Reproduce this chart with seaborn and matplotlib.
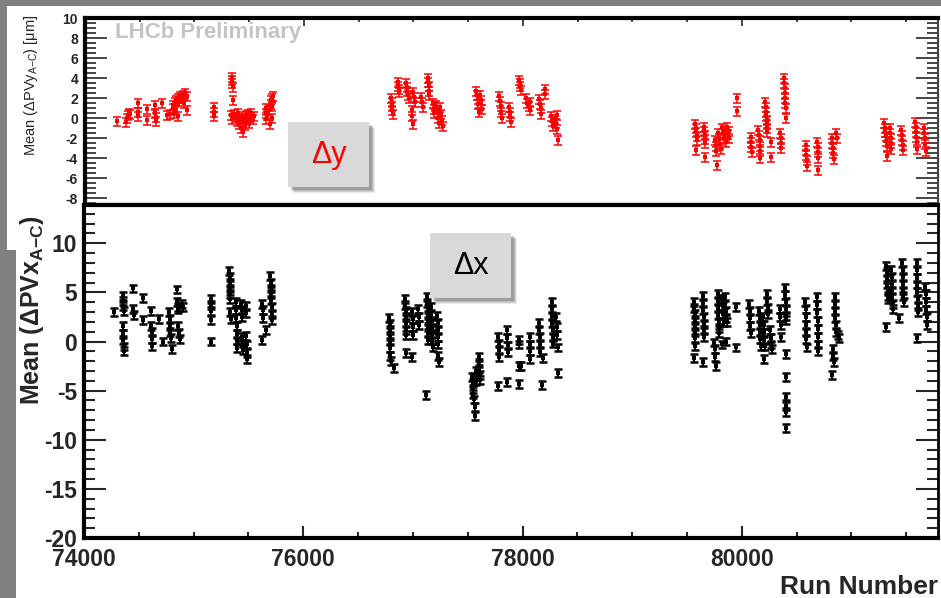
"""
Two stacked panels of per-run means: Delta y on top (red), Delta x below (black).
"""
import matplotlib
matplotlib.use("Agg")
import matplotlib.pyplot as plt
import seaborn as sns
import pandas as pd
from matplotlib.patches import Rectangle
from matplotlib.ticker import MultipleLocator

# ---- data: (run number, mean) ----
dy_points = [
    (74290, -0.3), (74370, -0.4), (74385, 0.0), (74395, 0.3), (74400, 0.5), (74410, 0.4),
    (74480, 1.5), (74480, 0.6), (74485, 0.2), (74565, 0.9), (74565, -0.2), (74640, 1.3),
    (74640, 0.5), (74650, -0.3), (74650, 0.1), (74705, 1.5), (74750, 0.3), (74780, 0.4),
    (74800, 1.0), (74805, 1.3), (74815, 0.5), (74820, 1.6), (74830, 1.8), (74835, 0.8),
    (74845, 2.0), (74850, 0.2), (74860, 1.7), (74870, 2.2), (74880, 2.0), (74895, 2.3),
    (74905, 1.5), (74915, 2.5), (74930, 2.2), (74935, 0.8),
    (75175, 1.1), (75180, 0.6), (75180, 0.2),
    (75340, 4.1), (75342, 3.8), (75345, 3.5), (75348, 3.1), (75350, 1.8),
    (75335, 0.3), (75345, -0.1), (75360, 0.4), (75380, 0.1), (75390, -0.3), (75400, 0.5),
    (75410, -0.6), (75420, -0.1), (75425, -1.0), (75430, 0.2), (75440, -0.4), (75445, -1.4),
    (75455, 0.0), (75460, -0.7), (75470, 0.3), (75480, -0.2), (75490, 0.4), (75500, -0.5),
    (75510, 0.1), (75520, 0.5), (75530, -0.1), (75540, 0.2),
    (75650, 1.0), (75652, 0.5), (75655, -0.1), (75665, 0.3), (75680, 0.8), (75690, -0.6),
    (75695, 1.4), (75700, 1.8), (75705, 2.0), (75710, 1.2), (75712, 0.0), (75718, 2.2),
    (76795, 2.0), (76800, 1.6), (76805, 1.2), (76808, 0.8), (76810, 0.4),
    (76855, 3.6), (76860, 3.2), (76865, 2.9), (76868, 2.6),
    (76935, 3.5), (76940, 3.1), (76945, 2.7), (76950, 2.3), (76955, 2.0),
    (76985, 0.8), (76990, 0.2), (76995, -0.6), (77000, 2.6), (77005, 2.1), (77010, 1.6),
    (77070, 2.1), (77078, 1.6), (77085, 1.1),
    (77130, 4.0), (77135, 3.6), (77138, 3.2), (77140, 2.7), (77145, 2.3),
    (77180, 1.5), (77185, 0.9), (77190, 0.5), (77195, 1.2), (77210, 1.3), (77220, 0.6),
    (77225, 0.0), (77230, -0.5), (77240, 1.1), (77255, 0.4), (77260, -0.2), (77270, -0.8),
    (77575, 2.7), (77580, 2.3), (77585, 1.9), (77590, 1.4), (77595, 0.6),
    (77610, 2.3), (77615, 1.8), (77620, 1.4), (77625, 0.9),
    (77785, 2.2), (77790, 1.7), (77795, 1.2), (77800, 0.6), (77805, 0.0),
    (77875, 1.1), (77880, 0.6), (77885, 0.2), (77890, -0.4),
    (77965, 3.8), (77970, 3.5), (77975, 3.2), (77980, 2.8),
    (78030, 2.0), (78040, 1.5), (78055, 1.2), (78065, 0.8), (78065, 1.6),
    (78150, 1.9), (78155, 1.4), (78160, 1.0), (78165, 0.4), (78200, 2.9), (78205, 2.4),
    (78255, 0.2), (78265, -0.3), (78275, -0.8), (78290, -0.1), (78300, -0.5), (78310, -1.1),
    (78315, 0.3), (78320, -2.2),
    (79575, -0.6), (79580, -1.0), (79580, -1.4), (79585, -1.8), (79590, -2.2), (79580, -3.2),
    (79650, -0.9), (79655, -1.3), (79660, -1.7), (79665, -2.1), (79665, -2.5), (79660, -3.9),
    (79755, -2.2), (79760, -2.8), (79765, -3.3), (79768, -4.7),
    (79780, -1.5), (79790, -2.0), (79800, -2.6), (79805, -3.1),
    (79815, -1.0), (79825, -1.5), (79835, -2.0), (79840, -1.2), (79850, -2.4), (79860, -0.9),
    (79870, -1.6), (79880, -2.0), (79885, -1.3),
    (79950, 2.0), (79952, 0.7),
    (80080, -1.9), (80083, -2.4), (80086, -2.9), (80088, -3.4),
    (80150, -1.2), (80155, -1.7), (80160, -2.2), (80162, -2.8), (80165, -3.3), (80168, -4.0),
    (80210, 1.6), (80215, 1.1), (80220, 0.6), (80222, 0.2), (80225, -0.2), (80228, -0.6),
    (80230, -1.0), (80232, -1.4), (80265, -2.4), (80268, -3.9),
    (80350, -1.5), (80355, -2.0), (80358, -2.5), (80360, -3.0),
    (80385, 4.0), (80388, 3.5), (80390, 3.0), (80392, 2.5), (80394, 2.0), (80396, 1.5),
    (80398, 1.0), (80400, 0.0),
    (80580, -2.7), (80585, -3.2), (80588, -3.7), (80590, -4.2), (80592, -4.8),
    (80685, -2.4), (80690, -2.9), (80692, -3.4), (80695, -4.0), (80698, -5.2),
    (80820, -2.0), (80825, -2.5), (80830, -3.0), (80835, -3.5), (80838, -4.1),
    (80860, -1.5), (80868, -2.0),
    (81300, -0.5), (81305, -1.0), (81310, -1.4), (81315, -1.8), (81318, -2.3), (81320, -2.8),
    (81325, -3.8), (81350, -1.0), (81355, -1.5), (81360, -2.0), (81362, -2.5), (81365, -3.1),
    (81455, -1.2), (81460, -1.7), (81463, -2.2), (81466, -2.7), (81470, -3.2),
    (81580, -0.4), (81585, -0.9), (81590, -1.4), (81592, -1.9), (81595, -2.4), (81600, -3.1),
    (81660, -1.0), (81665, -1.5), (81670, -2.0), (81675, -2.6), (81680, -3.3),
]

dx_points = [
    (74275, 3.0),
    (74355, 4.6), (74358, 4.1), (74360, 3.6), (74362, 3.1), (74355, 1.6), (74358, 0.8),
    (74360, 0.2), (74362, -0.5), (74365, -1.0),
    (74450, 5.4), (74450, 3.3), (74455, 2.7), (74540, 4.4), (74540, 2.2),
    (74615, 3.1), (74615, 1.6), (74618, 1.0), (74620, 0.3), (74622, -0.5),
    (74685, 2.3), (74722, 0.0),
    (74775, 3.0), (74780, 2.3), (74785, 1.6), (74788, 1.0), (74790, 0.4), (74800, -0.8),
    (74850, 5.3), (74852, 4.0), (74855, 3.5), (74858, 3.3), (74862, 1.6), (74868, 0.9),
    (74880, 0.3), (74890, 3.8), (74900, 3.5),
    (75157, 4.3), (75158, 3.7), (75160, 3.1), (75160, 2.2), (75160, 0.0),
    (75325, 7.2), (75328, 6.6), (75330, 6.0), (75332, 5.4), (75334, 4.8), (75336, 4.3),
    (75336, 3.0), (75338, 2.3),
    (75385, 4.0), (75388, 3.2), (75390, 2.4), (75393, 1.6), (75395, 0.8), (75397, 0.1),
    (75400, -0.7),
    (75435, 3.8), (75440, 3.2), (75442, 2.5), (75445, 0.5), (75448, -0.2), (75450, -0.9),
    (75475, 3.6), (75480, 2.9), (75482, 0.6), (75485, -0.3), (75488, -1.2), (75490, -1.8),
    (75625, 3.8), (75630, 3.2), (75635, 2.4), (75620, 0.2), (75660, 1.2),
    (75700, 6.7), (75703, 6.0), (75706, 5.4), (75708, 4.8), (75710, 4.2), (75712, 3.5),
    (75715, 2.8), (75718, 2.2),
    (76785, 2.4), (76787, 1.8), (76789, 1.2), (76790, 0.6), (76791, 0.0), (76792, -0.7),
    (76795, -1.5), (76797, -2.0), (76830, -2.7),
    (76930, 4.3), (76932, 3.7), (76934, 3.1), (76936, 2.5), (76938, 1.9), (76935, 1.2),
    (76935, 0.7), (76935, -1.2), (76990, -1.6),
    (76995, 3.0), (76998, 2.3), (77000, 1.5), (77002, 0.7),
    (77050, 3.3), (77052, 2.5), (77055, 1.7),
    (77130, 4.5), (77132, 3.9), (77134, 3.3), (77136, 2.7), (77138, 2.1), (77140, 1.5),
    (77140, 0.9), (77142, 0.2),
    (77165, 3.5), (77168, 2.8), (77170, 2.1), (77172, 1.4), (77175, 0.8), (77178, 0.1),
    (77180, -0.6),
    (77220, 2.6), (77225, 1.9), (77228, 1.2), (77230, 0.5), (77232, -0.3), (77225, -1.5),
    (77235, -2.1), (77122, -5.4),
    (77540, -3.6), (77545, -4.2), (77548, -4.8), (77550, -5.3), (77555, -5.9),
    (77575, -3.0), (77580, -4.0), (77600, -1.6), (77603, -2.2), (77605, -2.8), (77608, -3.4),
    (77612, -3.9), (77570, -6.7), (77565, -7.6),
    (77780, 0.5), (77782, -0.2), (77784, -0.9), (77786, -1.6), (77780, -4.5),
    (77860, 1.2), (77862, 0.4), (77864, -0.4), (77866, -1.1), (77855, -4.1),
    (77970, 0.2), (77972, -0.3), (77965, -2.5), (77985, -2.5), (77965, -4.3),
    (78065, 0.5), (78067, -0.3), (78069, -1.0), (78071, -1.8),
    (78150, 1.9), (78152, 1.2), (78155, 0.5), (78157, -0.2), (78160, -1.1), (78185, -1.7),
    (78180, -4.4),
    (78265, 4.0), (78268, 3.3), (78270, 2.6), (78272, 1.9), (78274, 1.2), (78276, 0.5),
    (78280, -0.2), (78310, 2.5), (78315, 1.5), (78318, 0.7), (78320, -0.6), (78320, -3.2),
    (79565, 4.0), (79567, 3.4), (79569, 2.8), (79570, 2.2), (79572, 1.6), (79574, 1.0),
    (79575, 0.4), (79577, -0.5), (79565, -1.7),
    (79645, 4.6), (79648, 3.9), (79650, 3.2), (79652, 2.5), (79654, 1.8), (79656, 1.2),
    (79658, 0.5), (79650, -2.1),
    (79750, -0.1), (79755, -0.8), (79758, -1.6), (79762, -2.5),
    (79780, 4.8), (79783, 4.1), (79785, 3.4), (79787, 2.7), (79789, 2.0), (79791, 1.4),
    (79793, 0.9),
    (79820, 4.3), (79825, 3.6), (79830, 2.8), (79835, 2.0), (79845, 4.5), (79850, 3.8),
    (79855, 3.1), (79860, 2.4), (79865, 2.0), (79820, -0.3), (79860, 0.0),
    (79950, 3.5), (79950, -0.6),
    (80070, 3.8), (80073, 3.1), (80076, 2.4), (80078, 1.6), (80080, 0.9),
    (80160, 3.1), (80163, 2.4), (80166, 1.7), (80168, 1.0), (80170, 0.3), (80172, -0.5),
    (80195, 2.5), (80200, 1.7), (80203, 0.9), (80206, 0.2), (80208, -0.5), (80205, -1.8),
    (80228, 4.8), (80232, 4.1), (80236, 3.4), (80238, 2.8),
    (80262, 1.2), (80266, 0.4), (80270, -0.3), (80275, -0.8),
    (80350, 3.3), (80353, 2.5), (80356, 1.7), (80360, 0.5),
    (80395, 5.5), (80397, 4.7), (80399, 4.0), (80401, 3.3), (80403, 2.6), (80403, 2.2),
    (80400, -1.3), (80400, -3.6), (80400, -5.6), (80400, -6.6), (80402, -7.2), (80400, -8.8),
    (80580, 4.0), (80582, 3.3), (80584, 2.5), (80586, 1.7), (80588, 1.0), (80590, 0.3),
    (80592, -0.6),
    (80685, 4.5), (80687, 3.7), (80689, 2.9), (80691, 2.1), (80693, 1.3), (80695, 0.5),
    (80697, -0.3), (80699, -1.0),
    (80848, 4.5), (80850, 3.8), (80852, 3.1), (80854, 2.4), (80856, 1.7), (80860, 1.0),
    (80880, 0.7), (80885, 0.4), (80832, -0.8), (80836, -1.5), (80838, -2.1), (80825, -3.4),
    (81320, 7.7), (81323, 7.1), (81326, 6.4), (81328, 5.8), (81330, 5.2), (81332, 4.6),
    (81334, 4.3), (81315, 1.5),
    (81365, 7.3), (81368, 6.6), (81370, 5.9), (81372, 5.2), (81374, 4.5), (81376, 3.8),
    (81378, 3.3), (81435, 2.4),
    (81465, 8.0), (81467, 7.3), (81469, 6.6), (81471, 5.9), (81473, 5.2), (81475, 4.6),
    (81477, 4.0),
    (81595, 8.0), (81597, 7.3), (81599, 6.5), (81601, 5.8), (81603, 5.0), (81605, 4.3),
    (81607, 3.6), (81609, 3.0), (81598, 0.4),
    (81675, 5.6), (81678, 4.8), (81680, 4.0), (81683, 3.2), (81686, 2.5), (81688, 1.7),
]

dy_err = 0.45
dx_err = 0.4

x_ticks = [74000, 76000, 78000, 80000]
x_tick_labels = ["74000", "76000", "78000", "80000"]
top_y_ticks = [-8, -6, -4, -2, 0, 2, 4, 6, 8, 10]
bot_y_ticks = [-20, -15, -10, -5, 0, 5, 10]

df_y = pd.DataFrame(dy_points, columns=["run", "mean"])
df_x = pd.DataFrame(dx_points, columns=["run", "mean"])

# ---- style ----
sns.set_style("white")
plt.rcParams['font.family'] = ['Liberation Sans', 'DejaVu Sans']
plt.rcParams['mathtext.fontset'] = 'custom'
plt.rcParams['mathtext.rm'] = 'Liberation Sans'
plt.rcParams['mathtext.it'] = 'Liberation Sans:italic'
plt.rcParams['mathtext.bf'] = 'Liberation Sans:bold'

W, H = 941, 598


def frac(x0, y0, x1, y1):
    # pixel box measured from top-left -> figure fraction [l, b, w, h]
    return [x0 / W, 1 - y1 / H, (x1 - x0) / W, (y1 - y0) / H]


fig = plt.figure(figsize=(W / 100, H / 100), dpi=100)
fig.patch.set_facecolor('#808080')

# white "slides" behind the two panels
for (x0, y0, x1, y1) in [(7, 6, 941, 250), (16, 215, 941, 598)]:
    l, b, w, h = frac(x0, y0, x1, y1)
    fig.add_artist(Rectangle((l, b), w, h, transform=fig.transFigure,
                             facecolor='white', edgecolor='none', zorder=-5))

ax_top = fig.add_axes(frac(85, 18, 938, 203))
ax_bot = fig.add_axes(frac(84, 205, 938, 538))

# ---- top panel: delta y ----
sns.scatterplot(data=df_y, x="run", y="mean", ax=ax_top, color='red',
                marker='s', s=5, linewidth=0, legend=False)
ax_top.errorbar(df_y["run"], df_y["mean"], yerr=dy_err, fmt='none',
                ecolor='red', elinewidth=1.1, capsize=3, capthick=1.1)
ax_top.set_xlim(74000, 81790)
ax_top.set_ylim(-8.5, 10)
ax_top.set_xlabel("")
ax_top.set_ylabel("")
ax_top.set_xticks(x_ticks)
ax_top.xaxis.set_minor_locator(MultipleLocator(500))
ax_top.set_yticks(top_y_ticks)
ax_top.set_yticklabels([str(v) for v in top_y_ticks], fontsize=10, fontweight='bold')
ax_top.yaxis.set_minor_locator(MultipleLocator(0.5))
ax_top.tick_params(axis='x', which='both', direction='in', bottom=False, top=True,
                   labelbottom=False, width=1.2)
ax_top.tick_params(axis='x', which='major', length=6)
ax_top.tick_params(axis='x', which='minor', length=3)
ax_top.tick_params(axis='y', which='both', direction='in', left=True, right=True,
                   width=1.2, pad=5)
ax_top.tick_params(axis='y', which='major', length=16)
ax_top.tick_params(axis='y', which='minor', length=8)
for side, lw, col in [('top', 3, 'black'), ('left', 3, 'black'),
                      ('right', 1.5, '#444444'), ('bottom', 1, '#999999')]:
    ax_top.spines[side].set_linewidth(lw)
    ax_top.spines[side].set_color(col)

ax_top.text(0.035, 0.92, "LHCb Preliminary", transform=ax_top.transAxes,
            fontsize=16, fontweight='bold', color='#c4c4c4', va='center', ha='left')

# ---- bottom panel: delta x ----
sns.scatterplot(data=df_x, x="run", y="mean", ax=ax_bot, color='black',
                marker='s', s=7, linewidth=0, legend=False)
ax_bot.errorbar(df_x["run"], df_x["mean"], yerr=dx_err, fmt='none',
                ecolor='black', elinewidth=1.5, capsize=2.6, capthick=1.8)
ax_bot.set_xlim(74000, 81790)
ax_bot.set_ylim(-20, 13.9)
ax_bot.set_xlabel("")
ax_bot.set_ylabel("")
ax_bot.set_xticks(x_ticks)
ax_bot.set_xticklabels(x_tick_labels, fontsize=16.5, fontweight='bold')
ax_bot.xaxis.set_minor_locator(MultipleLocator(500))
ax_bot.set_yticks(bot_y_ticks)
ax_bot.set_yticklabels([str(v) for v in bot_y_ticks], fontsize=16.5, fontweight='bold')
ax_bot.yaxis.set_minor_locator(MultipleLocator(1))
ax_bot.tick_params(axis='x', which='both', direction='in', top=False, bottom=True,
                   width=1.5, pad=7)
ax_bot.tick_params(axis='x', which='major', length=9)
ax_bot.tick_params(axis='x', which='minor', length=4)
ax_bot.tick_params(axis='y', which='both', direction='in', left=True, right=True,
                   width=1.5, pad=5)
ax_bot.tick_params(axis='y', which='major', length=16)
ax_bot.tick_params(axis='y', which='minor', length=8)
for side in ['top', 'left', 'bottom', 'right']:
    ax_bot.spines[side].set_linewidth(3 if side != 'right' else 2)
    ax_bot.spines[side].set_color('black')

# ---- axis titles ----
fig.text(31 / W, 1 - 85 / H, 'Mean (\u0394PVy$_{\\mathregular{A{-}C}}$) [\u03bcm]',
         rotation=90, fontsize=10.5, ha='center', va='center')
fig.text(32 / W, 1 - 310 / H, 'Mean (\u0394PVx$_{\\mathbf{A{-}C}}$)',
         rotation=90, fontsize=18, fontweight='bold', ha='center', va='center')
fig.text(938 / W, 1 - 587 / H, "Run Number", fontsize=19, fontweight='bold',
         ha='right', va='center')

# ---- label boxes with soft shadow ----
for (x0, y0, x1, y1, label, col) in [(288, 122, 369, 187, "\u0394y", 'red'),
                                      (430, 233, 511, 298, "\u0394x", 'black')]:
    for k, a in [(6, 0.12), (5, 0.15), (4, 0.2), (3, 0.25)]:
        l, b, w, h = frac(x0 + k, y0 + k, x1 + k, y1 + k)
        fig.add_artist(Rectangle((l, b), w, h, transform=fig.transFigure,
                                 facecolor='#505050', edgecolor='none', alpha=a, zorder=10))
    l, b, w, h = frac(x0, y0, x1, y1)
    fig.add_artist(Rectangle((l, b), w, h, transform=fig.transFigure,
                             facecolor='#d9d9d9', edgecolor='none', zorder=11))
    fig.text((x0 + x1) / 2 / W, 1 - (y0 + y1) / 2 / H, label, fontsize=22,
             color=col, ha='center', va='center', zorder=12)

fig.savefig("out.png", dpi=100, facecolor=fig.get_facecolor())
